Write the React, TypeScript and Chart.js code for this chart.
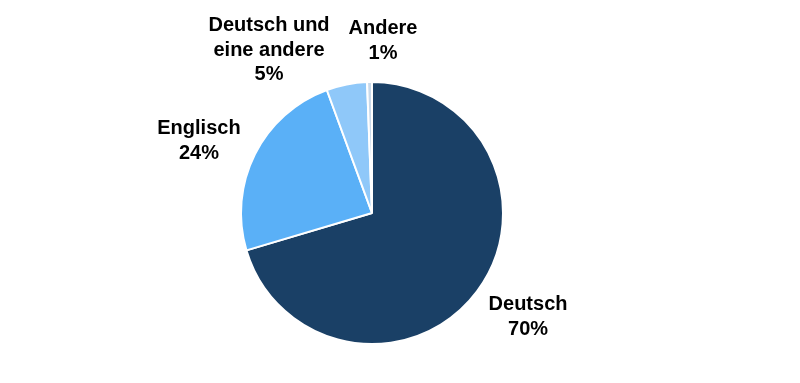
import React, { useEffect, useRef } from "react";
import { Chart, registerables } from "chart.js";

Chart.register(...registerables);

const categories = ["Deutsch", "Englisch", "Deutsch und eine andere", "Andere"];
const labelLines = [["Deutsch"], ["Englisch"], ["Deutsch und", "eine andere"], ["Andere"]];
const values = [70.4, 24.0, 5.0, 0.6];
const colors = ["#1a4066", "#5ab0f7", "#8fc8f9", "#c8d9ea"];

// label block centre relative to pie centre, in units of the pie radius
const labelOffsets = [
  [1.191, 0.786],
  [-1.321, -0.557],
  [-0.786, -1.252],
  [0.084, -1.321],
];

const labelPlugin = {
  id: "outerLabels",
  afterDatasetsDraw(chart: any) {
    const meta = chart.getDatasetMeta(0);
    const ctx = chart.ctx;
    const total = values.reduce((a, b) => a + b, 0);
    ctx.save();
    ctx.font = "bold 20px 'Liberation Sans', Arial, sans-serif";
    ctx.fillStyle = "#000000";
    ctx.textAlign = "center";
    ctx.textBaseline = "middle";
    const lh = 24.5;
    meta.data.forEach((arc: any, i: number) => {
      const r = arc.outerRadius;
      const cx = arc.x + labelOffsets[i][0] * r;
      const cy = arc.y + labelOffsets[i][1] * r;
      const pct = Math.max(1, Math.round((values[i] / total) * 100));
      const lines = [...labelLines[i], pct + "%"];
      const startY = cy - ((lines.length - 1) * lh) / 2;
      lines.forEach((t, j) => ctx.fillText(t, cx, startY + j * lh + 1));
    });
    ctx.restore();
  },
};

export default function App() {
  const ref = useRef<HTMLCanvasElement>(null);
  useEffect(() => {
    if (!ref.current) return;
    const chart = new Chart(ref.current, {
      type: "pie",
      data: {
        labels: categories,
        datasets: [
          {
            data: values,
            backgroundColor: colors,
            borderColor: "#ffffff",
            borderWidth: 2,
          },
        ],
      },
      options: {
        responsive: false,
        animation: false,
        layout: { padding: { left: 240, right: 296, top: 81, bottom: 38 } },
        plugins: { legend: { display: false }, tooltip: { enabled: false } },
      },
      plugins: [labelPlugin],
    });
    return () => chart.destroy();
  }, []);
  return (
    <div style={{ position: "absolute", left: 0, top: 0, width: 800, height: 383, background: "#fff" }}>
      <canvas ref={ref} width={800} height={383} style={{ width: 800, height: 383 }} />
    </div>
  );
}
